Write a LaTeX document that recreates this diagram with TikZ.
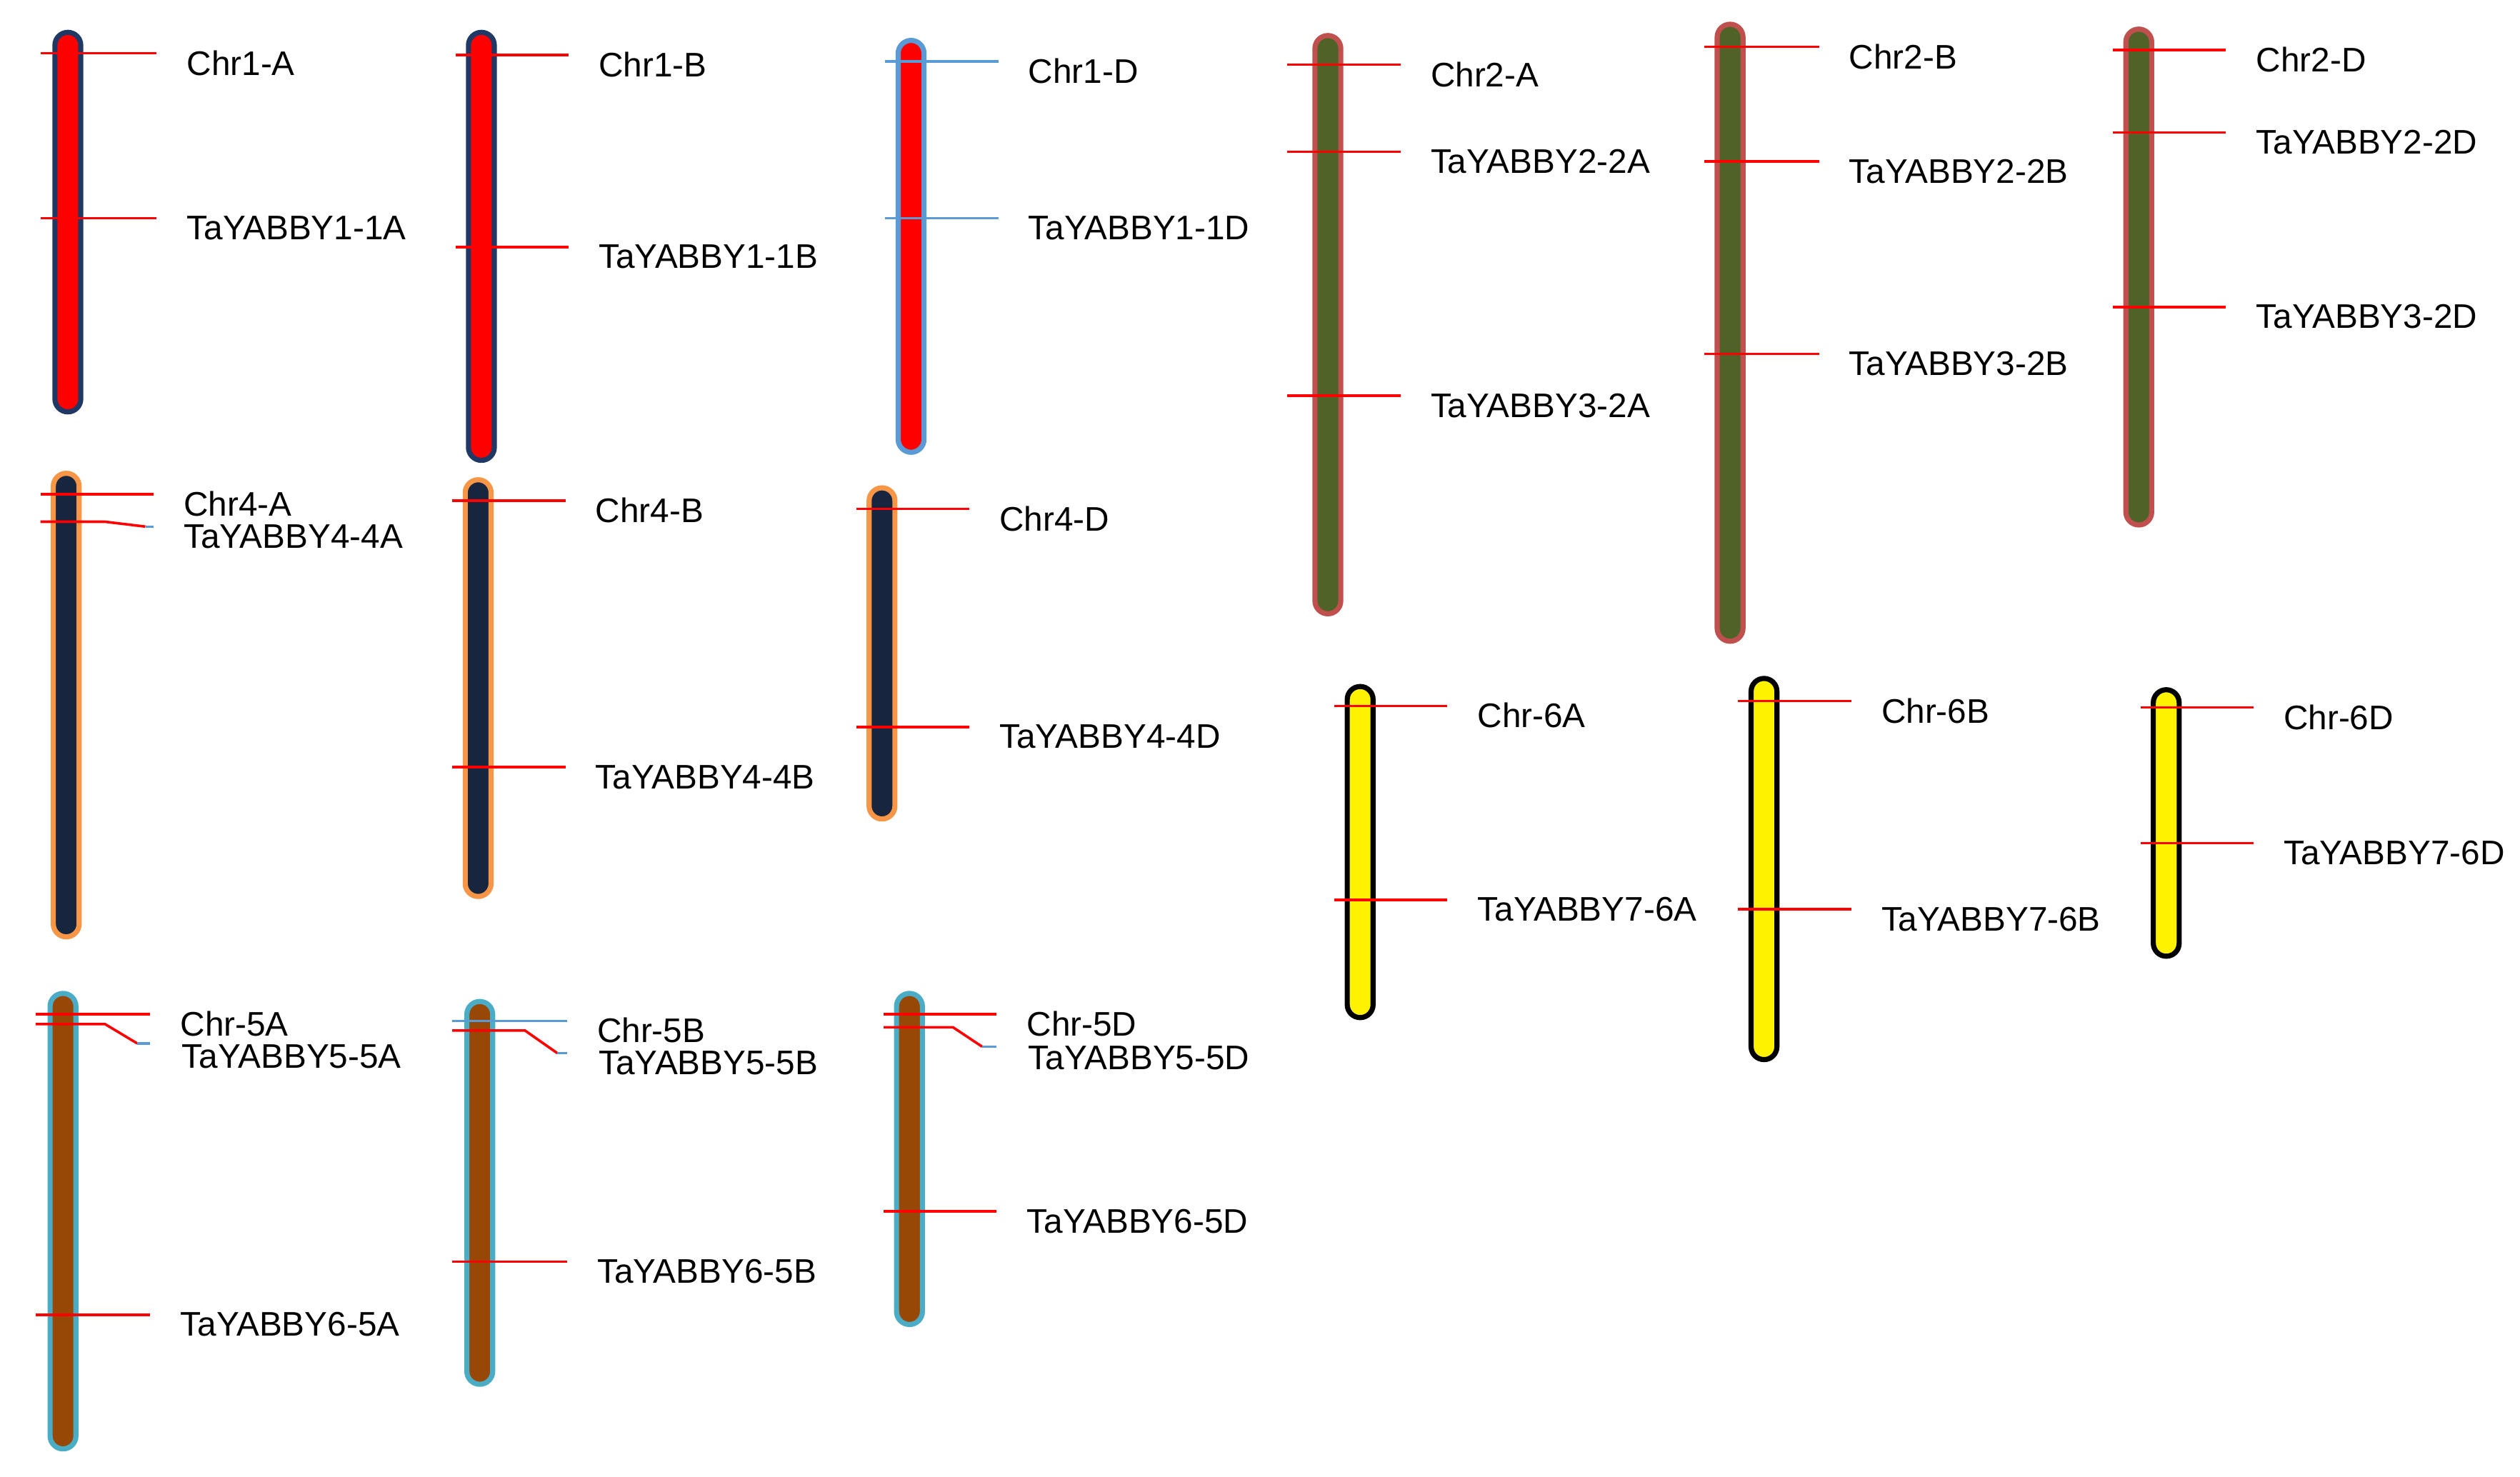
\documentclass[tikz,border=0pt]{standalone}
\usepackage{fontspec}
\setmainfont{Liberation Sans}
\definecolor{navy}{HTML}{1F3864}
\definecolor{lblue}{HTML}{5B9BD5}
\definecolor{olive}{HTML}{4F6228}
\definecolor{rosy}{HTML}{C0504D}
\definecolor{dnavy}{HTML}{17253F}
\definecolor{orng}{HTML}{F79646}
\definecolor{brwn}{HTML}{974706}
\definecolor{cyanb}{HTML}{4BACC6}
\newcommand\chromo[5]{\draw[#4,fill=#5,line width=0.9pt,rounded corners=0.08cm] (#1-8,#2) rectangle (#1+8,#3);}
\newcommand\mk[5][red]{\draw[#1,line width=0.45pt] (#2,#3) -- (#4,#3); \node[lab] at (#4+18,#3+6) {#5};}
\begin{document}
\begin{tikzpicture}[x={(0.01cm,0)},y={(0,-0.01cm)},lab/.style={anchor=west,inner sep=0pt,font=\fontsize{6}{7}\selectfont}]
\useasboundingbox (0,0) rectangle (1560,914);
% Chr1
\chromo{42}{20}{255}{navy}{red}
\mk{25}{33}{97}{Chr1-A}\mk{25}{135}{97}{TaYABBY1-1A}
\chromo{298}{20}{285}{navy}{red}
\mk{282}{34}{352}{Chr1-B}\mk{282}{153}{352}{TaYABBY1-1B}
\chromo{564}{25}{280}{lblue}{red}
\mk[lblue]{548}{38}{618}{Chr1-D}\mk[lblue]{548}{135}{618}{TaYABBY1-1D}
% Chr2
\chromo{822}{22}{380}{rosy}{olive}
\mk{797}{40}{867}{Chr2-A}\mk{797}{94}{867}{TaYABBY2-2A}\mk{797}{245}{867}{TaYABBY3-2A}
\chromo{1071}{15}{397}{rosy}{olive}
\mk{1055}{29}{1126}{Chr2-B}\mk{1055}{100}{1126}{TaYABBY2-2B}\mk{1055}{219}{1126}{TaYABBY3-2B}
\chromo{1324}{18}{325}{rosy}{olive}
\mk{1308}{31}{1378}{Chr2-D}\mk{1308}{82}{1378}{TaYABBY2-2D}\mk{1308}{190}{1378}{TaYABBY3-2D}
% Chr4
\chromo{41}{293}{580}{orng}{dnavy}
\mk{25}{306}{95}{Chr4-A}
\draw[red,line width=0.45pt] (25,323) -- (65,323) -- (90,326);
\draw[lblue,line width=0.45pt] (90,326) -- (95,326);
\node[lab] at (113,332) {TaYABBY4-4A};
\chromo{296}{297}{555}{orng}{dnavy}
\mk{280}{310}{350}{Chr4-B}\mk{280}{475}{350}{TaYABBY4-4B}
\chromo{546}{302}{507}{orng}{dnavy}
\mk{530}{315}{600}{Chr4-D}\mk{530}{450}{600}{TaYABBY4-4D}
% Chr5
\chromo{39}{615}{897}{cyanb}{brwn}
\mk{22}{628}{93}{Chr-5A}
\draw[red,line width=0.45pt] (22,634) -- (65,634) -- (85,646);
\draw[lblue,line width=0.45pt] (85,646) -- (93,646);
\node[lab] at (112,654) {TaYABBY5-5A};
\mk{22}{814}{93}{TaYABBY6-5A}
\chromo{297}{620}{857}{cyanb}{brwn}
\mk[lblue]{280}{632}{351}{Chr-5B}
\draw[red,line width=0.45pt] (280,638) -- (325,638) -- (345,652);
\draw[lblue,line width=0.45pt] (345,652) -- (351,652);
\node[lab] at (370,658) {TaYABBY5-5B};
\mk{280}{781}{351}{TaYABBY6-5B}
\chromo{563}{615}{820}{cyanb}{brwn}
\mk{547}{628}{617}{Chr-5D}
\draw[red,line width=0.45pt] (547,636) -- (590,636) -- (608,648);
\draw[lblue,line width=0.45pt] (608,648) -- (617,648);
\node[lab] at (636,655) {TaYABBY5-5D};
\mk{547}{750}{617}{TaYABBY6-5D}
% Chr6
\chromo{842}{425}{630}{black}{yellow}
\mk{826}{437}{896}{Chr-6A}\mk{826}{557}{896}{TaYABBY7-6A}
\chromo{1092}{420}{656}{black}{yellow}
\mk{1076}{434}{1146}{Chr-6B}\mk{1076}{563}{1146}{TaYABBY7-6B}
\chromo{1341}{427}{592}{black}{yellow}
\mk{1325}{438}{1395}{Chr-6D}\mk{1325}{522}{1395}{TaYABBY7-6D}
\end{tikzpicture}
\end{document}
